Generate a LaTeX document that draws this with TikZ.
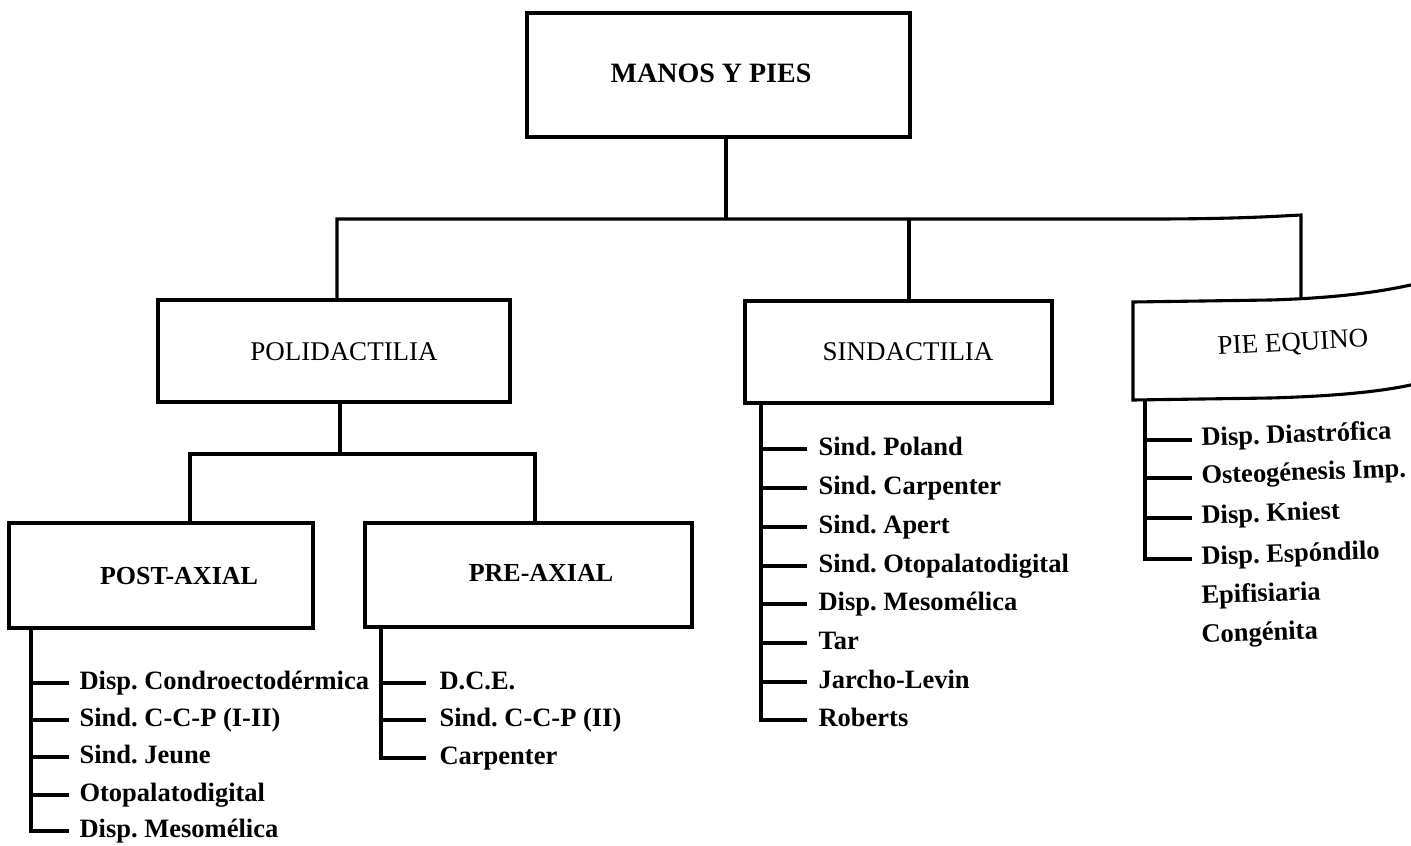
\documentclass[tikz,border=0pt]{standalone}
\usepackage{fontspec}
\setmainfont{Liberation Serif}
\frenchspacing
\begin{document}
\frenchspacing
\begin{tikzpicture}[x=1pt,y=-1pt,
  line width=3.1pt,
  box/.style={draw, line width=3.1pt, rectangle, inner sep=0pt},
  ttl/.style={font=\fontsize{27}{30}\selectfont, inner sep=0pt},
  bttl/.style={font=\fontsize{26}{30}\selectfont\bfseries, inner sep=0pt},
  item/.style={font=\fontsize{26.5}{30}\selectfont\bfseries, inner sep=0pt, anchor=west, text height=18pt, text depth=6pt},
]
\clip (0,0) rectangle (1411,846);
\fill[white] (0,0) rectangle (1411,846);

% boxes
\node[box, minimum width=383pt, minimum height=124pt] (manos) at (718.5,75) {};
\node[bttl, font=\fontsize{28}{30}\selectfont\bfseries] (manost) at (711,73) {MANOS Y PIES};
\node[box, minimum width=352pt, minimum height=102pt] (poli) at (334,351) {};
\node[ttl] (polit) at (344,352) {POLIDACTILIA};
\node[box, minimum width=307pt, minimum height=102pt] (sind) at (898.5,352) {};
\node[ttl] (sindt) at (908,352) {SINDACTILIA};
\node[box, minimum width=304pt, minimum height=105pt] (post) at (161,575.5) {};
\node[bttl] (postt) at (179,576) {POST-AXIAL};
\node[box, minimum width=327pt, minimum height=104pt] (pre) at (528.5,575) {};
\node[bttl] (pret) at (541,573) {PRE-AXIAL};

% PIE EQUINO box (page curl at the right edge)
\coordinate (pietl) at (1133,302);
\coordinate (piebl) at (1133,400);
\coordinate (pietop) at (1301,299);
\draw (1415,284) .. controls (1385,291) and (1340,298) .. (1270,300) -- (pietl) -- (piebl)
      -- (1270,398) .. controls (1340,396) and (1385,391) .. (1415,384);
\node[ttl, rotate=3] (piet) at (1293,344) {PIE EQUINO};

% first level connectors
\coordinate (j1) at (726,219);
\coordinate (cpoli) at (337,219);
\coordinate (csind) at (909,219);
\coordinate (cpie) at (1301,215);
\draw (manos.south -| j1) -- (j1);
\draw (poli.north -| cpoli) -- (cpoli) -- (1150,219) .. controls (1240,219) and (1280,216) .. (cpie) -- (pietop);
\draw (csind) -- (sind.north -| csind);

% second level connectors
\coordinate (h2) at (340,454);
\coordinate (cpost) at (190,454);
\coordinate (cpre) at (535,454);
\draw (poli.south -| h2) -- (h2);
\draw (post.north -| cpost) -- (cpost) -- (cpre) -- (pre.north -| cpre);

% POST-AXIAL list
\coordinate (lpost) at (31,0);
\node[item] (po1) at (78,683) {Disp. Condroectodérmica};
\node[item] (po2) at (78,720) {Sind. C-C-P (I-II)};
\node[item] (po3) at (78,757) {Sind. Jeune};
\node[item] (po4) at (78,795) {Otopalatodigital};
\node[item] (po5) at (78,831) {Disp. Mesomélica};
\draw (post.south -| lpost) |- ([xshift=-9pt]po5.west);
\foreach \n in {po1,po2,po3,po4}{\draw (\n.west -| lpost) -- ([xshift=-9pt]\n.west);}

% PRE-AXIAL list
\coordinate (lpre) at (381,0);
\node[item] (pr1) at (438,683) {D.C.E.};
\node[item] (pr2) at (438,720) {Sind. C-C-P (II)};
\node[item] (pr3) at (438,758) {Carpenter};
\draw (pre.south -| lpre) |- ([xshift=-12pt]pr3.west);
\foreach \n in {pr1,pr2}{\draw (\n.west -| lpre) -- ([xshift=-12pt]\n.west);}

% SINDACTILIA list
\coordinate (lsind) at (761,0);
\node[item] (si1) at (817,449) {Sind. Poland};
\node[item] (si2) at (817,488) {Sind. Carpenter};
\node[item] (si3) at (817,527) {Sind. Apert};
\node[item] (si4) at (817,566) {Sind. Otopalatodigital};
\node[item] (si5) at (817,604) {Disp. Mesomélica};
\node[item] (si6) at (817,643) {Tar};
\node[item] (si7) at (817,682) {Jarcho-Levin};
\node[item] (si8) at (817,720) {Roberts};
\draw (sind.south -| lsind) |- ([xshift=-10pt]si8.west);
\foreach \n in {si1,si2,si3,si4,si5,si6,si7}{\draw (\n.west -| lsind) -- ([xshift=-10pt]\n.west);}

% PIE EQUINO list
\coordinate (lpie) at (1145,400);
\node[item, rotate=2] (pe1) at (1200,440) {Disp. Diastrófica};
\node[item, rotate=2] (pe2) at (1200,478) {Osteogénesis Imp.};
\node[item, rotate=2] (pe3) at (1200,518) {Disp. Kniest};
\node[item, rotate=2] (pe4) at (1200,559) {Disp. Espóndilo};
\node[item, rotate=2] (pe5) at (1200,598) {Epifisiaria};
\node[item, rotate=2] (pe6) at (1200,637) {Congénita};
\draw (lpie) |- ([xshift=-8pt]pe4.west);
\foreach \n in {pe1,pe2,pe3}{\draw (\n.west -| lpie) -- ([xshift=-8pt]\n.west);}
\end{tikzpicture}
\end{document}
